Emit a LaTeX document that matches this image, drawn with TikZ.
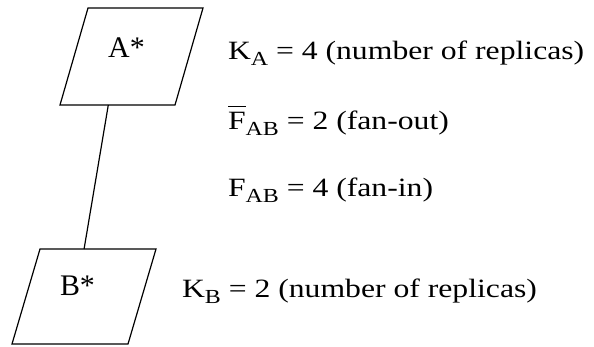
\documentclass[tikz,border=0pt]{standalone}
\usepackage{fontspec}
\setmainfont{Liberation Serif}
\newfontfamily\sidefont{Liberation Serif}[FakeStretch=1.2]
\usetikzlibrary{calc}

\newcommand{\idx}[1]{\raisebox{-6bp}{\fontsize{20}{20}\selectfont #1}}
\newcommand{\barred}[1]{\vbox{\hrule height 1.2bp\kern 4.5bp\hbox{#1}}}

\begin{document}
\begin{tikzpicture}[x=1bp, y=-1bp,
  every node/.style={inner sep=0pt, outer sep=0pt},
  para/.style={draw, line width=1.2bp, line join=miter},
  boxlab/.style={anchor=base, font=\fontsize{30}{30}\selectfont},
  side/.style={anchor=base west, font=\sidefont\fontsize{26.5}{26.5}\selectfont}]
  \useasboundingbox (0,0) rectangle (594,346);

  % the two replicated stages
  \draw[para] (60,105) coordinate (Abl) -- (175,105) coordinate (Abr)
    -- (203,8) -- (88,8) -- cycle;
  \draw[para] (12,344) -- (128,344) -- (156,249) coordinate (Btr)
    -- (40,249) coordinate (Btl) -- cycle;
  \node[boxlab] (Alab) at (126.5,57) {A*};
  \node[boxlab] (Blab) at (77.5,295) {B*};

  \coordinate (Aout) at ($(Abl)!0.42!(Abr)$);
  \coordinate (Bin) at ($(Btl)!0.38!(Btr)$);
  \draw[line width=1.2bp] (Aout) -- (Bin);

  \foreach \n/\x/\y/\txt in {
    ka/228/59/{K\idx{A} = 4 (number of replicas)},
    fout/228/129/{\barred{F}\idx{AB} = 2 (fan-out)},
    fin/228/196/{F\idx{AB} = 4 (fan-in)},
    kb/182/297/{K\idx{B} = 2 (number of replicas)}} {
    \node[side] (\n) at (\x,\y) {\txt};
  }
\end{tikzpicture}
\end{document}
